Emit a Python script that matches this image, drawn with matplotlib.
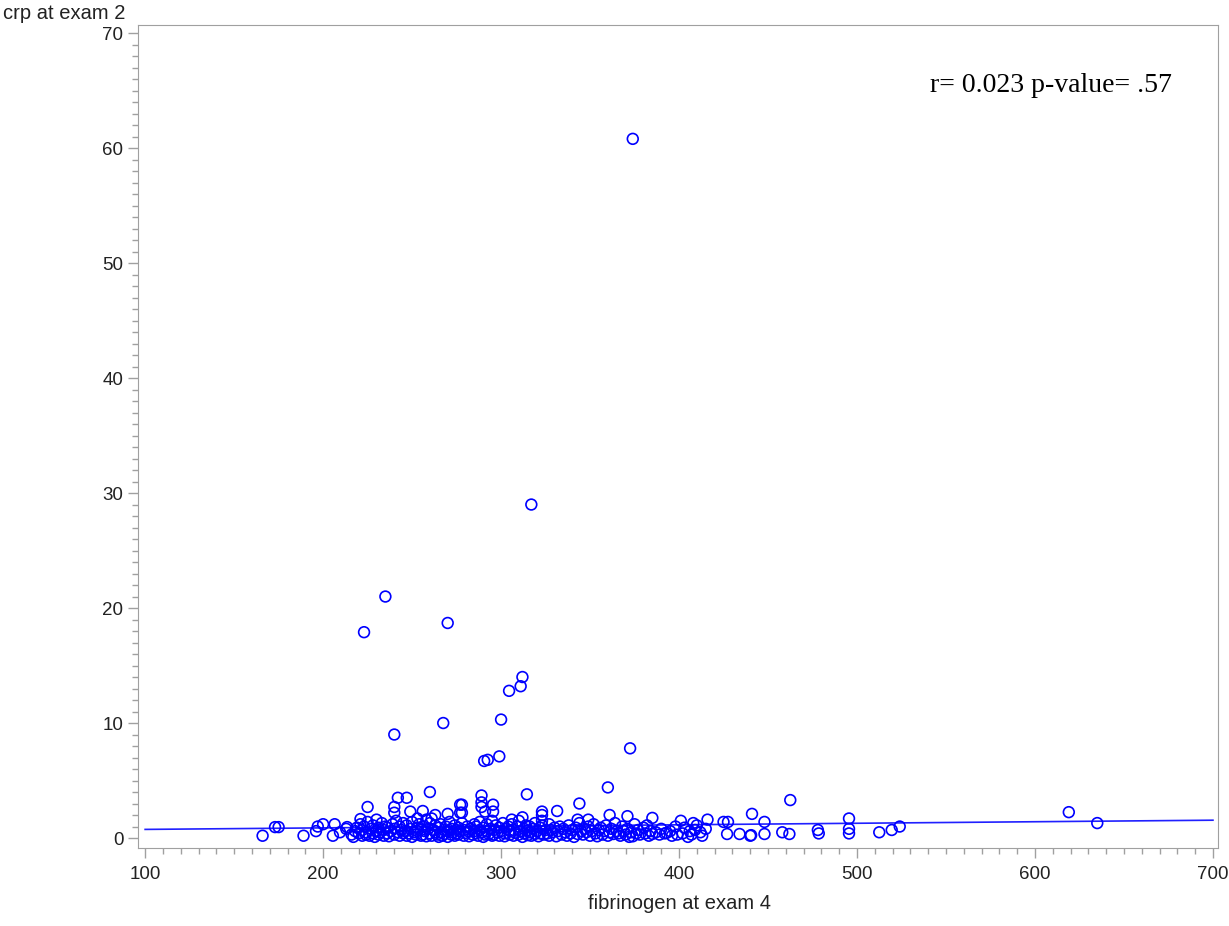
import numpy as np
import matplotlib
matplotlib.use("Agg")
import matplotlib.pyplot as plt
from matplotlib.ticker import MultipleLocator

# outlying / sparse points (fibrinogen exam 4, crp exam 2)
sparse_x = [374, 317, 235, 223, 270, 312, 311, 304.5, 300, 267.5, 240, 299, 292.5, 290.5,
            372.5, 360, 462.5, 260, 314.5, 344, 289, 289, 289, 295.5, 295.5, 291, 242, 247,
            225, 240, 240, 249, 256, 263, 270, 277, 277, 278, 278, 323, 323, 323, 331.5,
            312, 306, 343, 349, 361, 371, 385, 401, 408, 416, 425, 230, 221, 213.5, 253, 261,
            441, 619, 635, 495.5, 495.5, 495.5, 512.5, 519.5, 524, 478, 478.5, 462, 458,
            448, 448, 434, 427.5, 427, 440, 440.5, 166, 173, 175, 189, 196, 197, 200, 205.5,
            206.5, 209.5, 213]
sparse_y = [60.8, 29.0, 21.0, 17.9, 18.7, 14.0, 13.2, 12.8, 10.3, 10.0, 9.0, 7.1, 6.8, 6.7,
            7.8, 4.4, 3.3, 4.0, 3.8, 3.0, 3.7, 3.1, 2.7, 2.9, 2.3, 2.3, 3.5, 3.5,
            2.7, 2.7, 2.2, 2.3, 2.35, 2.0, 2.1, 2.9, 2.2, 2.9, 2.2, 2.3, 2.0, 1.5, 2.35,
            1.8, 1.6, 1.6, 1.6, 2.0, 1.9, 1.75, 1.5, 1.3, 1.6, 1.4, 1.6, 1.65, 0.95, 1.7, 1.7,
            2.1, 2.25, 1.3, 1.7, 0.8, 0.4, 0.5, 0.7, 1.0, 0.7, 0.4, 0.35, 0.5,
            0.35, 1.4, 0.35, 1.4, 0.35, 0.2, 0.25, 0.2, 0.95, 0.95, 0.2, 0.6, 1.0, 1.2, 0.2,
            1.2, 0.5, 0.8]

# dense band near the bottom
dense_x = [216, 217, 218, 219, 220, 221, 222, 222, 223, 224, 224, 225,
           226, 227, 228, 228, 229, 230, 231, 231, 232, 233, 234, 234, 235,
           236, 236, 237, 238, 239, 240, 240, 241, 242, 243, 243, 244, 245, 245,
           246, 247, 247, 248, 249, 250, 250, 251, 252, 253, 253, 254, 255, 255,
           256, 256, 257, 258, 259, 260, 260, 261, 262, 263, 263, 264, 265, 265, 258,
           266, 266, 267, 268, 268, 269, 270, 270, 271, 272, 272, 273, 274, 274, 275, 275,
           276, 276, 277, 278, 279, 279, 280, 281, 282, 282, 283, 284, 285, 285,
           286, 286, 287, 288, 288, 289, 290, 290, 291, 292, 292, 293, 294, 295, 295,
           296, 296, 297, 298, 299, 299, 300, 301, 302, 302, 303, 304, 305, 305,
           306, 307, 307, 308, 309, 310, 310, 311, 312, 313, 313, 314, 315, 315,
           316, 316, 317, 318, 319, 319, 320, 321, 322, 322, 323, 324, 325,
           326, 327, 327, 328, 329, 330, 331, 332, 333, 334, 335,
           336, 337, 338, 339, 340, 341, 342, 343, 344, 345,
           346, 347, 348, 349, 350, 351, 352, 353, 354, 355,
           356, 357, 358, 359, 360, 361, 362, 363, 364, 365,
           366, 367, 368, 369, 370, 371, 372, 373, 374, 375, 376,
           377, 378, 380, 381, 382, 383, 384, 385,
           387, 389, 390, 392, 393, 395, 396, 398, 399,
           402, 403, 405, 406, 407, 409, 410, 412, 413, 415]
dense_y = [0.3, 0.1, 0.6, 0.9, 0.4, 1.2, 0.2, 0.7, 1.0, 0.3, 0.5, 1.4,
           0.2, 0.8, 0.4, 1.1, 0.1, 0.6, 0.3, 0.9, 0.5, 1.3, 0.2, 0.7, 1.0,
           0.4, 0.9, 0.15, 0.6, 1.2, 0.3, 0.8, 1.5, 0.5, 0.2, 1.0, 0.7, 0.4, 1.3,
           0.6, 0.2, 1.1, 0.4, 0.8, 0.1, 1.4, 0.5, 0.3, 0.9, 0.6, 1.2, 0.2, 0.7,
           0.3, 1.0, 0.6, 0.15, 0.8, 0.4, 1.3, 0.2, 0.7, 0.5, 1.1, 0.3, 0.9, 0.1, 1.6,
           0.5, 1.2, 0.2, 0.7, 0.35, 1.0, 0.1, 0.6, 1.4, 0.3, 0.8, 0.5, 0.2, 1.1, 0.7, 0.4,
           0.9, 0.3, 0.6, 1.3, 0.2, 0.7, 0.45, 1.0, 0.15, 0.55, 0.8, 0.3, 1.2, 0.6,
           0.4, 1.0, 0.2, 0.7, 1.4, 0.5, 0.1, 0.9, 0.3, 1.2, 0.6, 0.35, 0.8, 0.2, 1.5,
           0.7, 0.3, 1.1, 0.5, 0.2, 0.9, 0.6, 1.3, 0.4, 0.15, 0.8, 1.0, 0.3, 0.6,
           1.2, 0.2, 0.7, 0.45, 1.0, 0.3, 1.5, 0.6, 0.1, 0.8, 0.4, 1.1, 0.25, 0.65,
           0.5, 1.0, 0.2, 0.8, 0.35, 1.3, 0.6, 0.15, 0.9, 0.4, 1.1, 0.3, 0.7,
           0.4, 1.2, 0.2, 0.7, 0.5, 0.9, 0.15, 0.6, 1.0, 0.3, 0.8,
           0.5, 0.2, 1.1, 0.4, 0.7, 0.1, 0.9, 0.35, 1.3, 0.6,
           0.3, 0.8, 0.5, 1.0, 0.2, 0.6, 1.2, 0.4, 0.15, 0.7,
           0.9, 0.3, 0.6, 1.1, 0.2, 0.5, 0.8, 0.35, 1.3, 0.6,
           0.4, 0.2, 1.0, 0.6, 0.3, 0.8, 0.1, 0.5, 0.15, 1.2, 0.4,
           0.7, 0.3, 0.9, 0.4, 1.1, 0.2, 0.6, 0.35,
           0.5, 0.3, 0.8, 0.4, 0.45, 0.6, 0.2, 1.0, 0.3,
           0.4, 0.9, 0.1, 0.6, 0.3, 0.7, 1.1, 0.5, 0.2, 0.8]

# regression line end points
fit_x = [100, 700]
fit_y = [0.75, 1.55]

stat_text = "r= 0.023 p-value= .57"

fig = plt.figure(figsize=(12.29, 9.26), dpi=100)
ax = fig.add_axes([0.1123, 0.0842, 0.8787, 0.8888])

blue = "#0000ff"
xs = np.array(sparse_x + dense_x)
ys = np.array(sparse_y + dense_y)
ax.plot(fit_x, fit_y, color="#2020ff", lw=1.2, zorder=2)
ax.scatter(xs, ys, s=60, facecolors="none", edgecolors=blue, linewidths=1.2, zorder=3)

ax.set_xlim(96, 702.8)
ax.set_ylim(-0.87, 70.7)
ax.xaxis.set_major_locator(MultipleLocator(100))
ax.xaxis.set_minor_locator(MultipleLocator(10))
ax.yaxis.set_major_locator(MultipleLocator(10))
ax.yaxis.set_minor_locator(MultipleLocator(1))

gray = "#a0a0a0"
for sp in ax.spines.values():
    sp.set_color(gray)
ax.tick_params(which="both", direction="out", colors=gray, labelcolor="#222222",
               labelsize=13.5)
ax.tick_params(which="major", length=7, width=1)
ax.tick_params(which="minor", length=4, width=1)
ax.tick_params(axis="x", which="major", pad=6)
for lab in ax.get_xticklabels() + ax.get_yticklabels():
    lab.set_family("Liberation Sans")

fig.text(0.0025, 0.985, "crp at exam 2", ha="left", va="center",
         fontsize=14.5, family="Liberation Sans", color="#222222")
fig.text(0.553, 0.024, "fibrinogen at exam 4", ha="center", va="center",
         fontsize=14.5, family="Liberation Sans", color="#222222")

ax.text(0.957, 0.926, stat_text, transform=ax.transAxes, ha="right", va="center",
        fontsize=20, family="Liberation Serif", color="black")

fig.savefig("out.png", dpi=100)
